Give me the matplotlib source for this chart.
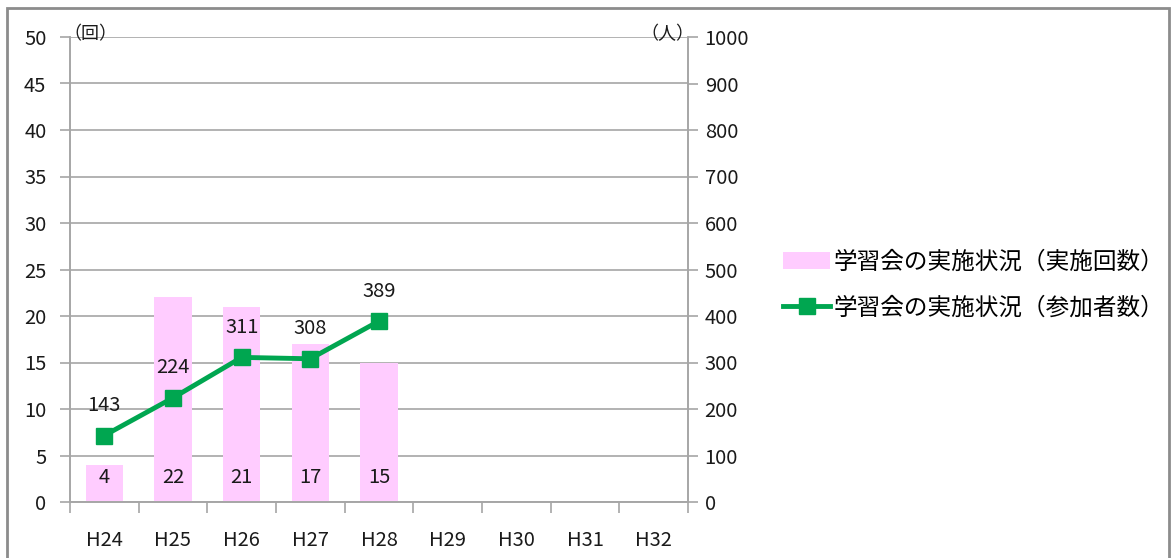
import numpy as np
import matplotlib
matplotlib.use("Agg")
import matplotlib.pyplot as plt
from matplotlib.patches import Rectangle

plt.rcParams['font.family'] = ['Noto Sans CJK JP', 'DejaVu Sans']

years = ['H24', 'H25', 'H26', 'H27', 'H28', 'H29', 'H30', 'H31', 'H32']
sessions = [4, 22, 21, 17, 15]          # 実施回数
participants = [143, 224, 311, 308, 389]  # 参加者数

label_bar = '学習会の実施状況（実施回数）'
label_line = '学習会の実施状況（参加者数）'

pink = '#FFCCFF'
green = '#00A650'
grid_c = '#A6A6A6'
txt_c = '#1A1A1A'
fs = 14.5

fig = plt.figure(figsize=(11.76, 5.58), dpi=100)
# outer frame
fig.patches.append(Rectangle((7 / 1176, -0.1), 1162 / 1176, 1 - 8 / 558 + 0.1,
                             transform=fig.transFigure, fill=False,
                             edgecolor='#8C8C8C', linewidth=2))

ax = fig.add_axes([70 / 1176, 1 - 502 / 558, 618 / 1176, 465 / 558])
ax2 = ax.twinx()
ax.set_zorder(ax2.get_zorder() - 1)
ax.patch.set_visible(False)

x = np.arange(len(years))
xs = x[:len(sessions)]
bars = ax.bar(xs, sessions, width=0.54, color=pink, zorder=2, label=label_bar)
for xi, v in zip(xs, sessions):
    ax.text(xi, 2.6, str(v), ha='center', va='center', fontsize=fs, color=txt_c, zorder=3)

ax.set_xlim(-0.5, len(years) - 0.5)
ax.set_ylim(0, 50)
ax.set_yticks(np.arange(0, 51, 5))
ax.yaxis.grid(True, color=grid_c, linewidth=1.2, zorder=0)
ax.set_axisbelow(True)
ax.set_xticks(np.arange(-0.5, len(years), 1), minor=False)
ax.set_xticklabels([])
ax.set_xticks(x, minor=True)
ax.set_xticklabels(years, minor=True)
ax.tick_params(axis='x', which='major', length=8, color=grid_c, width=1.2)
ax.tick_params(axis='x', which='minor', length=0, pad=20, labelsize=fs, labelcolor=txt_c)
ax.tick_params(axis='y', length=7, color=grid_c, width=1.2, labelsize=fs, labelcolor=txt_c, pad=10)

line, = ax2.plot(xs, participants, color=green, linewidth=3.5, marker='s',
                 markersize=12, label=label_line, zorder=4)
for xi, v in zip(xs, participants):
    ax2.text(xi, v + 42, str(v), ha='center', va='bottom', fontsize=fs, color=txt_c)
ax2.set_ylim(0, 1000)
ax2.set_yticks(np.arange(0, 1001, 100))
ax2.tick_params(axis='y', length=7, color=grid_c, width=1.2, labelsize=fs, labelcolor=txt_c, pad=5)

for a in (ax, ax2):
    a.spines['top'].set_visible(False)
    for s in ('left', 'right', 'bottom'):
        a.spines[s].set_color(grid_c)
        a.spines[s].set_linewidth(1.2)

ax.text(-0.01, 49.3, '（回）', fontsize=13, ha='left', va='bottom',
        transform=ax.get_yaxis_transform(), color=txt_c)
ax2.text(1.01, 986, '（人）', fontsize=13, ha='right', va='bottom',
         transform=ax2.get_yaxis_transform(), color=txt_c)

fig.legend([bars, line], [label_bar, label_line], loc='center left',
           bbox_to_anchor=(762 / 1176, 1 - 285 / 558), frameon=False,
           fontsize=17, handlelength=2.0, labelspacing=0.95, handletextpad=0.15)

fig.savefig('out.png', dpi=100)
